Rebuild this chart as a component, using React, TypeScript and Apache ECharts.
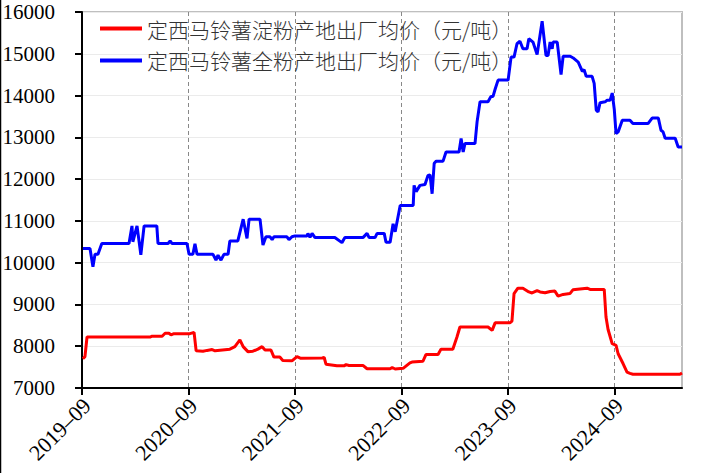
import React, { useEffect, useRef } from "react";
import * as echarts from "echarts";

const seriesNames = ["定西马铃薯淀粉产地出厂均价（元/吨）", "定西马铃薯全粉产地出厂均价（元/吨）"];
const xTickLabels = ["2019-09", "2020-09", "2021-09", "2022-09", "2023-09", "2024-09"];
const xStart = "2019-09-01";
const xEnd = "2025-04-20";
const yMin = 7000;
const yMax = 16000;
const yStep = 1000;

const starchPrices: [string, number][] = [
  ["2019-09-04", 7700], ["2019-09-11", 7750], ["2019-09-18", 8220], ["2020-04-21", 8220], ["2020-04-28", 8240],
  ["2020-06-02", 8240], ["2020-06-12", 8310], ["2020-06-25", 8310], ["2020-07-02", 8270], ["2020-07-12", 8300],
  ["2020-09-06", 8300], ["2020-09-20", 8330], ["2020-09-27", 7890], ["2020-10-20", 7880], ["2020-11-04", 7900],
  ["2020-11-21", 7920], ["2020-12-01", 7890], ["2021-01-21", 7930], ["2021-02-08", 7990], ["2021-02-25", 8150],
  ["2021-03-06", 7990], ["2021-03-22", 7870], ["2021-04-09", 7880], ["2021-04-26", 7930], ["2021-05-10", 7990],
  ["2021-05-20", 7910], ["2021-06-10", 7910], ["2021-06-20", 7740], ["2021-07-10", 7740], ["2021-07-20", 7660],
  ["2021-08-21", 7650], ["2021-09-08", 7750], ["2021-09-21", 7710], ["2021-12-03", 7720], ["2021-12-10", 7730],
  ["2021-12-16", 7570], ["2022-01-23", 7530], ["2022-02-17", 7530], ["2022-02-24", 7560], ["2022-03-04", 7540],
  ["2022-04-21", 7540], ["2022-05-05", 7460], ["2022-07-23", 7460], ["2022-07-30", 7490], ["2022-08-10", 7455],
  ["2022-09-07", 7470], ["2022-09-30", 7600], ["2022-10-07", 7620], ["2022-11-14", 7640], ["2022-11-24", 7800],
  ["2023-01-05", 7800], ["2023-01-15", 7930], ["2023-02-25", 7930], ["2023-03-09", 8220], ["2023-03-19", 8460],
  ["2023-06-24", 8460], ["2023-07-08", 8380], ["2023-07-18", 8560], ["2023-09-08", 8560], ["2023-09-15", 8600],
  ["2023-09-22", 9260], ["2023-10-05", 9390], ["2023-10-22", 9390], ["2023-11-12", 9300], ["2023-11-23", 9275],
  ["2023-12-10", 9330], ["2023-12-20", 9300], ["2024-01-07", 9280], ["2024-01-24", 9310], ["2024-02-10", 9320],
  ["2024-02-21", 9200], ["2024-03-08", 9240], ["2024-04-01", 9260], ["2024-04-11", 9350], ["2024-05-29", 9390],
  ["2024-06-09", 9360], ["2024-07-27", 9360], ["2024-08-03", 8700], ["2024-08-10", 8400], ["2024-08-24", 8060],
  ["2024-09-07", 8020], ["2024-09-14", 7820], ["2024-10-01", 7580], ["2024-10-14", 7380], ["2024-10-24", 7350],
  ["2024-11-04", 7330], ["2025-04-13", 7330], ["2025-04-20", 7360],
];

const fullPowderPrices: [string, number][] = [
  ["2019-09-04", 10340], ["2019-09-28", 10340], ["2019-10-08", 9900], ["2019-10-15", 10200], ["2019-10-25", 10200],
  ["2019-11-08", 10460], ["2020-02-10", 10460], ["2020-02-20", 10880], ["2020-02-23", 10500], ["2020-03-07", 10880],
  ["2020-03-20", 10190], ["2020-03-31", 10880], ["2020-05-14", 10880], ["2020-05-18", 10460], ["2020-06-22", 10460],
  ["2020-06-29", 10520], ["2020-07-05", 10460], ["2020-08-26", 10460], ["2020-09-03", 10200], ["2020-09-16", 10200],
  ["2020-09-23", 10450], ["2020-09-30", 10200], ["2020-11-24", 10200], ["2020-12-04", 10060], ["2020-12-11", 10180],
  ["2020-12-21", 10060], ["2021-01-01", 10200], ["2021-01-15", 10200], ["2021-01-21", 10520], ["2021-02-18", 10520],
  ["2021-03-06", 11040], ["2021-03-19", 10580], ["2021-03-26", 11040], ["2021-05-03", 11040], ["2021-05-13", 10420],
  ["2021-05-23", 10620], ["2021-06-07", 10620], ["2021-06-14", 10550], ["2021-06-20", 10620], ["2021-08-04", 10620],
  ["2021-08-11", 10550], ["2021-08-21", 10620], ["2021-09-01", 10640], ["2021-10-12", 10640], ["2021-10-15", 10700],
  ["2021-10-22", 10610], ["2021-10-29", 10700], ["2021-11-09", 10600], ["2022-01-16", 10600], ["2022-02-10", 10480],
  ["2022-02-20", 10600], ["2022-04-21", 10600], ["2022-05-05", 10700], ["2022-05-12", 10600], ["2022-06-02", 10600],
  ["2022-06-09", 10700], ["2022-07-03", 10700], ["2022-07-09", 10490], ["2022-07-23", 10490], ["2022-08-03", 10930],
  ["2022-08-10", 10740], ["2022-08-27", 11370], ["2022-10-11", 11370], ["2022-10-14", 11850], ["2022-10-21", 11700],
  ["2022-11-04", 11850], ["2022-11-21", 11870], ["2022-12-01", 12090], ["2022-12-08", 12100], ["2022-12-15", 11650],
  ["2022-12-22", 12380], ["2022-12-29", 12430], ["2023-01-22", 12430], ["2023-02-02", 12650], ["2023-03-16", 12650],
  ["2023-03-23", 12970], ["2023-03-30", 12650], ["2023-04-06", 12850], ["2023-05-10", 12850], ["2023-05-17", 13370],
  ["2023-05-27", 13850], ["2023-06-24", 13850], ["2023-07-04", 13980], ["2023-07-11", 13980], ["2023-07-18", 14150],
  ["2023-07-28", 14370], ["2023-09-02", 14370], ["2023-09-12", 14920], ["2023-09-22", 14920], ["2023-10-02", 15240],
  ["2023-10-12", 15300], ["2023-10-22", 15120], ["2023-11-06", 15120], ["2023-11-12", 15360], ["2023-11-26", 15280],
  ["2023-12-10", 14980], ["2023-12-27", 15780], ["2024-01-10", 14960], ["2024-01-17", 14960], ["2024-01-24", 15280],
  ["2024-02-01", 15120], ["2024-02-04", 15280], ["2024-02-18", 15280], ["2024-03-01", 14500], ["2024-03-08", 14940],
  ["2024-04-02", 14940], ["2024-04-12", 14900], ["2024-04-29", 14800], ["2024-05-13", 14580], ["2024-05-19", 14620],
  ["2024-05-26", 14460], ["2024-06-16", 14460], ["2024-06-23", 14290], ["2024-06-30", 13650], ["2024-07-06", 13610],
  ["2024-07-13", 13830], ["2024-07-30", 13850], ["2024-08-07", 13890], ["2024-08-17", 13890], ["2024-08-24", 14060],
  ["2024-09-01", 13670], ["2024-09-07", 13090], ["2024-09-14", 13130], ["2024-09-28", 13410], ["2024-10-24", 13410],
  ["2024-11-04", 13330], ["2024-12-25", 13330], ["2025-01-09", 13460], ["2025-01-30", 13460], ["2025-02-09", 13170],
  ["2025-02-16", 13130], ["2025-02-23", 12980], ["2025-03-27", 12980], ["2025-04-07", 12770], ["2025-04-20", 12770],
];

// months elapsed since the start month (fractional)
const monthOffset = (d: string) => {
  const [y, m, dd] = d.split("-").map(Number);
  const [y0, m0] = xStart.split("-").map(Number);
  return (y - y0) * 12 + (m - m0) + (dd - 1) / 30;
};

const toPoints = (arr: [string, number][]) => arr.map(([d, v]) => [monthOffset(d), v]);

export default function App() {
  const ref = useRef<HTMLDivElement>(null);
  useEffect(() => {
    if (!ref.current) return;
    const chart = echarts.init(ref.current, null, { renderer: "svg" });
    const tickValues = xTickLabels.map((l) => monthOffset(l + "-01"));
    const serif = "Liberation Serif, Times New Roman, serif";
    chart.setOption({
      animation: false,
      backgroundColor: "#ffffff",
      grid: {
        left: 82,
        top: 12,
        right: 27,
        bottom: 85,
        show: true,
        borderColor: "#bfbfbf",
        borderWidth: 2,
        backgroundColor: "transparent",
      },
      legend: {
        orient: "vertical",
        left: 95,
        top: 13,
        itemWidth: 42,
        itemHeight: 4,
        itemGap: 11,
        icon: "rect",
        textStyle: {
          fontFamily: "Noto Sans CJK SC",
          fontSize: 21,
          color: "#333333",
          fontWeight: 300,
        },
        data: seriesNames,
      },
      xAxis: {
        type: "value",
        min: 0,
        max: monthOffset(xEnd),
        interval: 12,
        axisLine: { show: true, lineStyle: { color: "#000", width: 2 } },
        axisTick: {
          show: true,
          length: 7,
          lineStyle: { color: "#000", width: 2 },
          customValues: tickValues,
        },
        axisLabel: { show: false },
        splitLine: {
          show: true,
          lineStyle: { color: "#888888", type: [4, 3], width: 1 },
        },
      },
      yAxis: {
        type: "value",
        min: yMin,
        max: yMax,
        interval: yStep,
        axisLine: { show: true, lineStyle: { color: "#000", width: 2 } },
        axisTick: { show: true, length: 7, lineStyle: { color: "#000", width: 2 } },
        axisLabel: { show: false },
        splitLine: { show: true, lineStyle: { color: "#ebebeb", width: 1 } },
      },
      series: [
        {
          name: seriesNames[0],
          type: "line",
          data: toPoints(starchPrices),
          showSymbol: false,
          symbol: "none",
          lineStyle: { color: "#ff0000", width: 3 },
          itemStyle: { color: "#ff0000" },
        },
        {
          name: seriesNames[1],
          type: "line",
          data: toPoints(fullPowderPrices),
          showSymbol: false,
          symbol: "none",
          lineStyle: { color: "#0000ff", width: 3 },
          itemStyle: { color: "#0000ff" },
        },
      ],
    });

    // axis labels placed through the axes' own scales
    const graphics: any[] = [
      {
        type: "line",
        shape: { x1: 0.5, y1: 0, x2: 0.5, y2: 473 },
        style: { stroke: "#000", lineWidth: 1.5 },
      },
    ];
    const xAxisPx = chart.convertToPixel({ yAxisIndex: 0 }, yMin) as number;
    const yAxisPx = chart.convertToPixel({ xAxisIndex: 0 }, 0) as number;
    for (let v = yMin; v <= yMax; v += yStep) {
      const py = chart.convertToPixel({ yAxisIndex: 0 }, v) as number;
      graphics.push({
        type: "text",
        x: yAxisPx - 27,
        y: py,
        style: {
          text: String(v),
          fontFamily: serif,
          fontSize: 21,
          fill: "#000",
          align: "right",
          verticalAlign: "middle",
        },
      });
    }
    xTickLabels.forEach((lab, i) => {
      const px = chart.convertToPixel({ xAxisIndex: 0 }, tickValues[i]) as number;
      graphics.push({
        type: "text",
        x: px + 5,
        y: xAxisPx + 14,
        rotation: Math.PI / 4,
        style: {
          text: lab.replace("-", "–"),
          fontFamily: serif,
          fontSize: 22,
          fill: "#000",
          align: "right",
          verticalAlign: "middle",
        },
      });
    });
    chart.setOption({ graphic: graphics });
    return () => chart.dispose();
  }, []);
  return <div ref={ref} style={{ position: "fixed", left: 0, top: 0, width: 709, height: 473 }} />;
}
